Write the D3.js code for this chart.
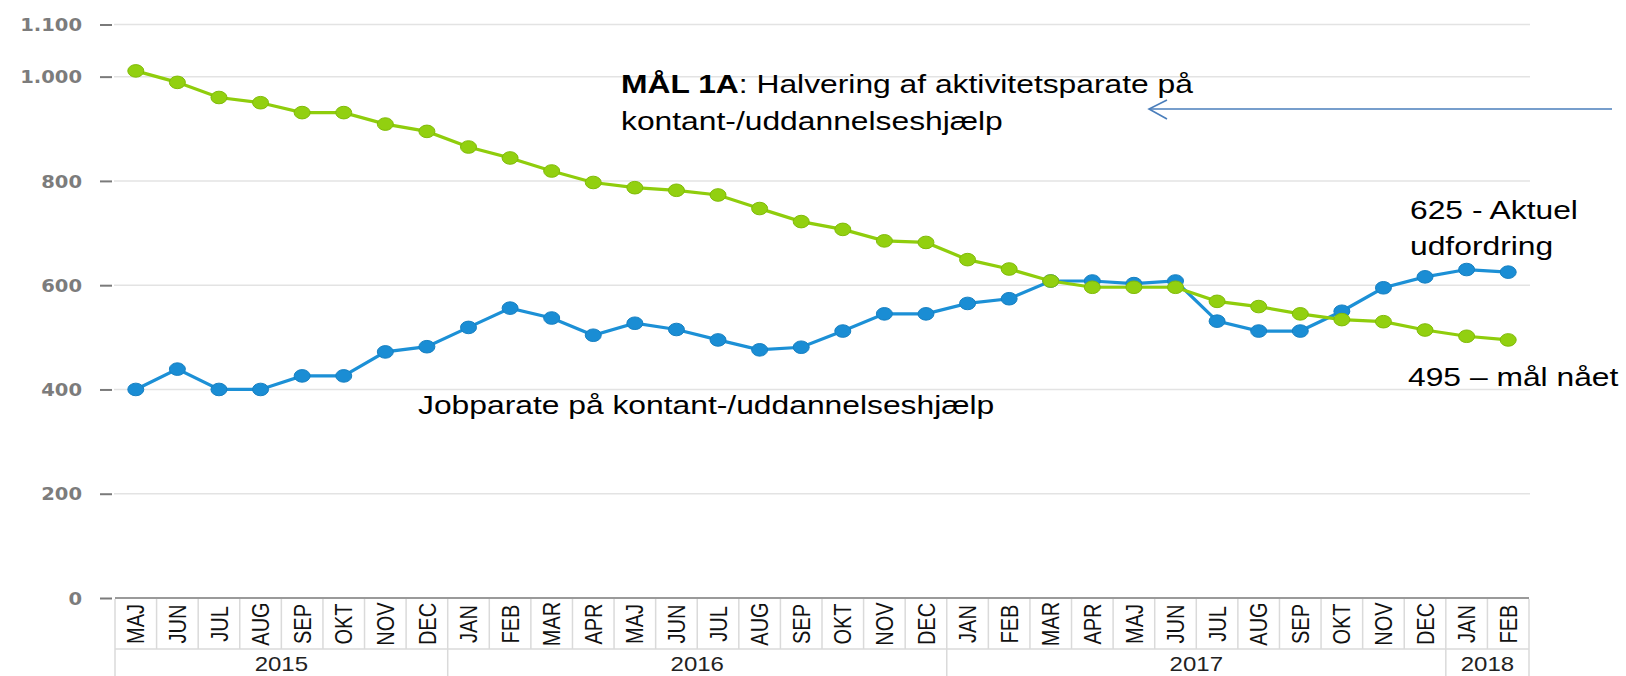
<!DOCTYPE html>
<html>
<head>
<meta charset="utf-8">
<script src="https://cdn.jsdelivr.net/npm/d3@7"></script>
<style>
  body { margin: 0; background: #fff; }
  svg { display: block; }
</style>
</head>
<body>
<div id="chart"></div>
<script>
// Chart data
var years = ["2015", "2016", "2017", "2018"];
var monthsByYear = [
  ["MAJ", "JUN", "JUL", "AUG", "SEP", "OKT", "NOV", "DEC"],
  ["JAN", "FEB", "MAR", "APR", "MAJ", "JUN", "JUL", "AUG", "SEP", "OKT", "NOV", "DEC"],
  ["JAN", "FEB", "MAR", "APR", "MAJ", "JUN", "JUL", "AUG", "SEP", "OKT", "NOV", "DEC"],
  ["JAN", "FEB"]
];

// Aktivitetsparate (green)
var aktivitetsparate = [
  1011, 989, 960, 950, 931, 931, 909, 895,
  865, 844, 819, 797, 787, 782, 773, 747, 722, 707, 685, 682,
  649, 631, 608, 596, 596, 596, 569, 559, 545, 534, 530, 514,
  502, 495
];

// Jobparate (blue)
var jobparate = [
  400, 439, 400, 400, 426, 426, 472, 482,
  519, 556, 537, 504, 527, 515, 495, 476, 481, 512, 545, 545,
  565, 574, 608, 608, 603, 608, 531, 512, 512, 550, 595, 616,
  630, 625
];

var yTicks = [0, 200, 400, 600, 800, 1000, 1100];

// Set up the chart
var svgWidth = 1626;
var svgHeight = 676;
var stretch = 1.2; // source image is stretched horizontally

var months = [];
var yearSpans = [];
monthsByYear.forEach(function(list, i) {
  yearSpans.push({ year: years[i], start: months.length, count: list.length });
  list.forEach(function(m) { months.push(m); });
});

var svg = d3.select("#chart")
  .append("svg")
  .attr("width", svgWidth)
  .attr("height", svgHeight);

svg.append("rect")
  .attr("width", svgWidth)
  .attr("height", svgHeight)
  .attr("fill", "#fff");

var x = d3.scaleBand()
  .domain(d3.range(months.length))
  .range([115, 1529]);

var y = d3.scaleLinear()
  .domain([0, 1100])
  .range([598, 24.5]);

var xLeft = x.range()[0], xRight = x.range()[1];
var bw = x.bandwidth();

var daFormat = d3.formatLocale({ decimal: ",", thousands: ".", grouping: [3], currency: ["", " kr."] }).format(",d");

// Gridlines
svg.append("g")
  .selectAll("line")
  .data(yTicks.filter(function(d) { return d > 0; }))
  .enter().append("line")
    .attr("x1", xLeft - 1)
    .attr("x2", xRight + 1)
    .attr("y1", function(d) { return y(d); })
    .attr("y2", function(d) { return y(d); })
    .attr("stroke", "#e3e3e3")
    .attr("stroke-width", 1.5);

// Y axis
var leftAxis = d3.axisLeft(y)
  .tickValues(yTicks)
  .tickSize(12)
  .tickFormat(daFormat);

var yAxis = svg.append("g")
  .attr("transform", "translate(112,0)")
  .call(leftAxis);

yAxis.select(".domain").remove();
yAxis.selectAll(".tick line")
  .attr("stroke", "#7a7a7a")
  .attr("stroke-width", 2);
yAxis.selectAll(".tick text")
  .attr("x", 0)
  .attr("dy", "0.36em")
  .attr("transform", "translate(-30,0) scale(1.15,1)")
  .style("font-family", "'DejaVu Sans', sans-serif")
  .style("font-weight", "bold")
  .style("font-size", "17px")
  .style("fill", "#7c7c7c");

// X axis table
var rowTop = 599, rowMid = 649, rowBottom = 676;
var table = svg.append("g");

table.selectAll(".mline")
  .data(d3.range(months.length + 1))
  .enter().append("line")
    .attr("class", "mline")
    .attr("x1", function(i) { return xLeft + i * bw; })
    .attr("x2", function(i) { return xLeft + i * bw; })
    .attr("y1", rowTop)
    .attr("y2", rowMid)
    .attr("stroke", "#dadada")
    .attr("stroke-width", 1.5);

var yearEdges = yearSpans.map(function(s) { return s.start; }).concat([months.length]);
table.selectAll(".yline")
  .data(yearEdges)
  .enter().append("line")
    .attr("class", "yline")
    .attr("x1", function(i) { return xLeft + i * bw; })
    .attr("x2", function(i) { return xLeft + i * bw; })
    .attr("y1", rowMid)
    .attr("y2", rowBottom)
    .attr("stroke", "#dadada")
    .attr("stroke-width", 1.5);

table.append("line")
  .attr("x1", xLeft).attr("x2", xRight)
  .attr("y1", rowMid).attr("y2", rowMid)
  .attr("stroke", "#dadada")
  .attr("stroke-width", 1.5);

table.selectAll(".mlabel")
  .data(months)
  .enter().append("text")
    .attr("class", "mlabel")
    .attr("transform", function(d, i) {
      return "translate(" + (x(i) + bw / 2) + ",624) scale(" + stretch + ",1) rotate(-90)";
    })
    .attr("text-anchor", "middle")
    .attr("dy", "0.36em")
    .style("font-family", "'Liberation Sans', Arial, sans-serif")
    .style("font-size", "20px")
    .style("fill", "#111")
    .text(function(d) { return d; });

table.selectAll(".ylabel")
  .data(yearSpans)
  .enter().append("text")
    .attr("class", "ylabel")
    .attr("transform", function(s) {
      return "translate(" + (xLeft + (s.start + s.count / 2) * bw) + ",670.5) scale(" + stretch + ",1)";
    })
    .attr("text-anchor", "middle")
    .style("font-family", "'Liberation Sans', Arial, sans-serif")
    .style("font-size", "20px")
    .style("fill", "#222")
    .text(function(s) { return s.year; });

// Zero axis line
svg.append("line")
  .attr("x1", xLeft).attr("x2", xRight)
  .attr("y1", y(0)).attr("y2", y(0))
  .attr("stroke", "#9a9a9a")
  .attr("stroke-width", 2);

// Series
function drawSeries(values, lineColor, dotColor, edgeColor) {
  var line = d3.line()
    .x(function(d, i) { return x(i) + bw / 2; })
    .y(function(d) { return y(d); });

  svg.append("path")
    .datum(values)
    .attr("d", line)
    .attr("fill", "none")
    .attr("stroke", lineColor)
    .attr("stroke-width", 3.2);

  svg.append("g")
    .selectAll("ellipse")
    .data(values)
    .enter().append("ellipse")
      .attr("cx", function(d, i) { return x(i) + bw / 2; })
      .attr("cy", function(d) { return y(d); })
      .attr("rx", 8)
      .attr("ry", 6.3)
      .attr("fill", dotColor)
      .attr("stroke", edgeColor)
      .attr("stroke-width", 1);
}

drawSeries(jobparate, "#1c90d6", "#1a8dd4", "#1780c2");
drawSeries(aktivitetsparate, "#8fcd0c", "#92d010", "#80bb08");

// Annotations
var font = "'Liberation Sans', Arial, sans-serif";
function note(tx, ty, str) {
  return svg.append("text")
    .attr("transform", "translate(" + tx + "," + ty + ") scale(" + stretch + ",1)")
    .style("font-family", font)
    .style("font-size", "26.5px")
    .style("fill", "#000")
    .text(str);
}

var goal = svg.append("text")
  .attr("transform", "translate(621,93) scale(" + stretch + ",1)")
  .style("font-family", font)
  .style("font-size", "26.5px")
  .style("fill", "#000");
goal.append("tspan").style("font-weight", "bold").text("MÅL 1A");
goal.append("tspan").text(": Halvering af aktivitetsparate på");
note(621, 130, "kontant-/uddannelseshjælp");

note(418, 414, "Jobparate på kontant-/uddannelseshjælp");
note(1410, 219, "625 - Aktuel");
note(1410, 255, "udfordring");
note(1408, 386, "495 – mål nået");

// Arrow pointing to the goal text
svg.append("line")
  .attr("x1", 1612).attr("x2", 1150)
  .attr("y1", 109).attr("y2", 109)
  .attr("stroke", "#4a7ebb")
  .attr("stroke-width", 1.6);
svg.append("polyline")
  .attr("points", "1167,100 1149,109 1167,119")
  .attr("fill", "none")
  .attr("stroke", "#4a7ebb")
  .attr("stroke-width", 1.6);
</script>
</body>
</html>
